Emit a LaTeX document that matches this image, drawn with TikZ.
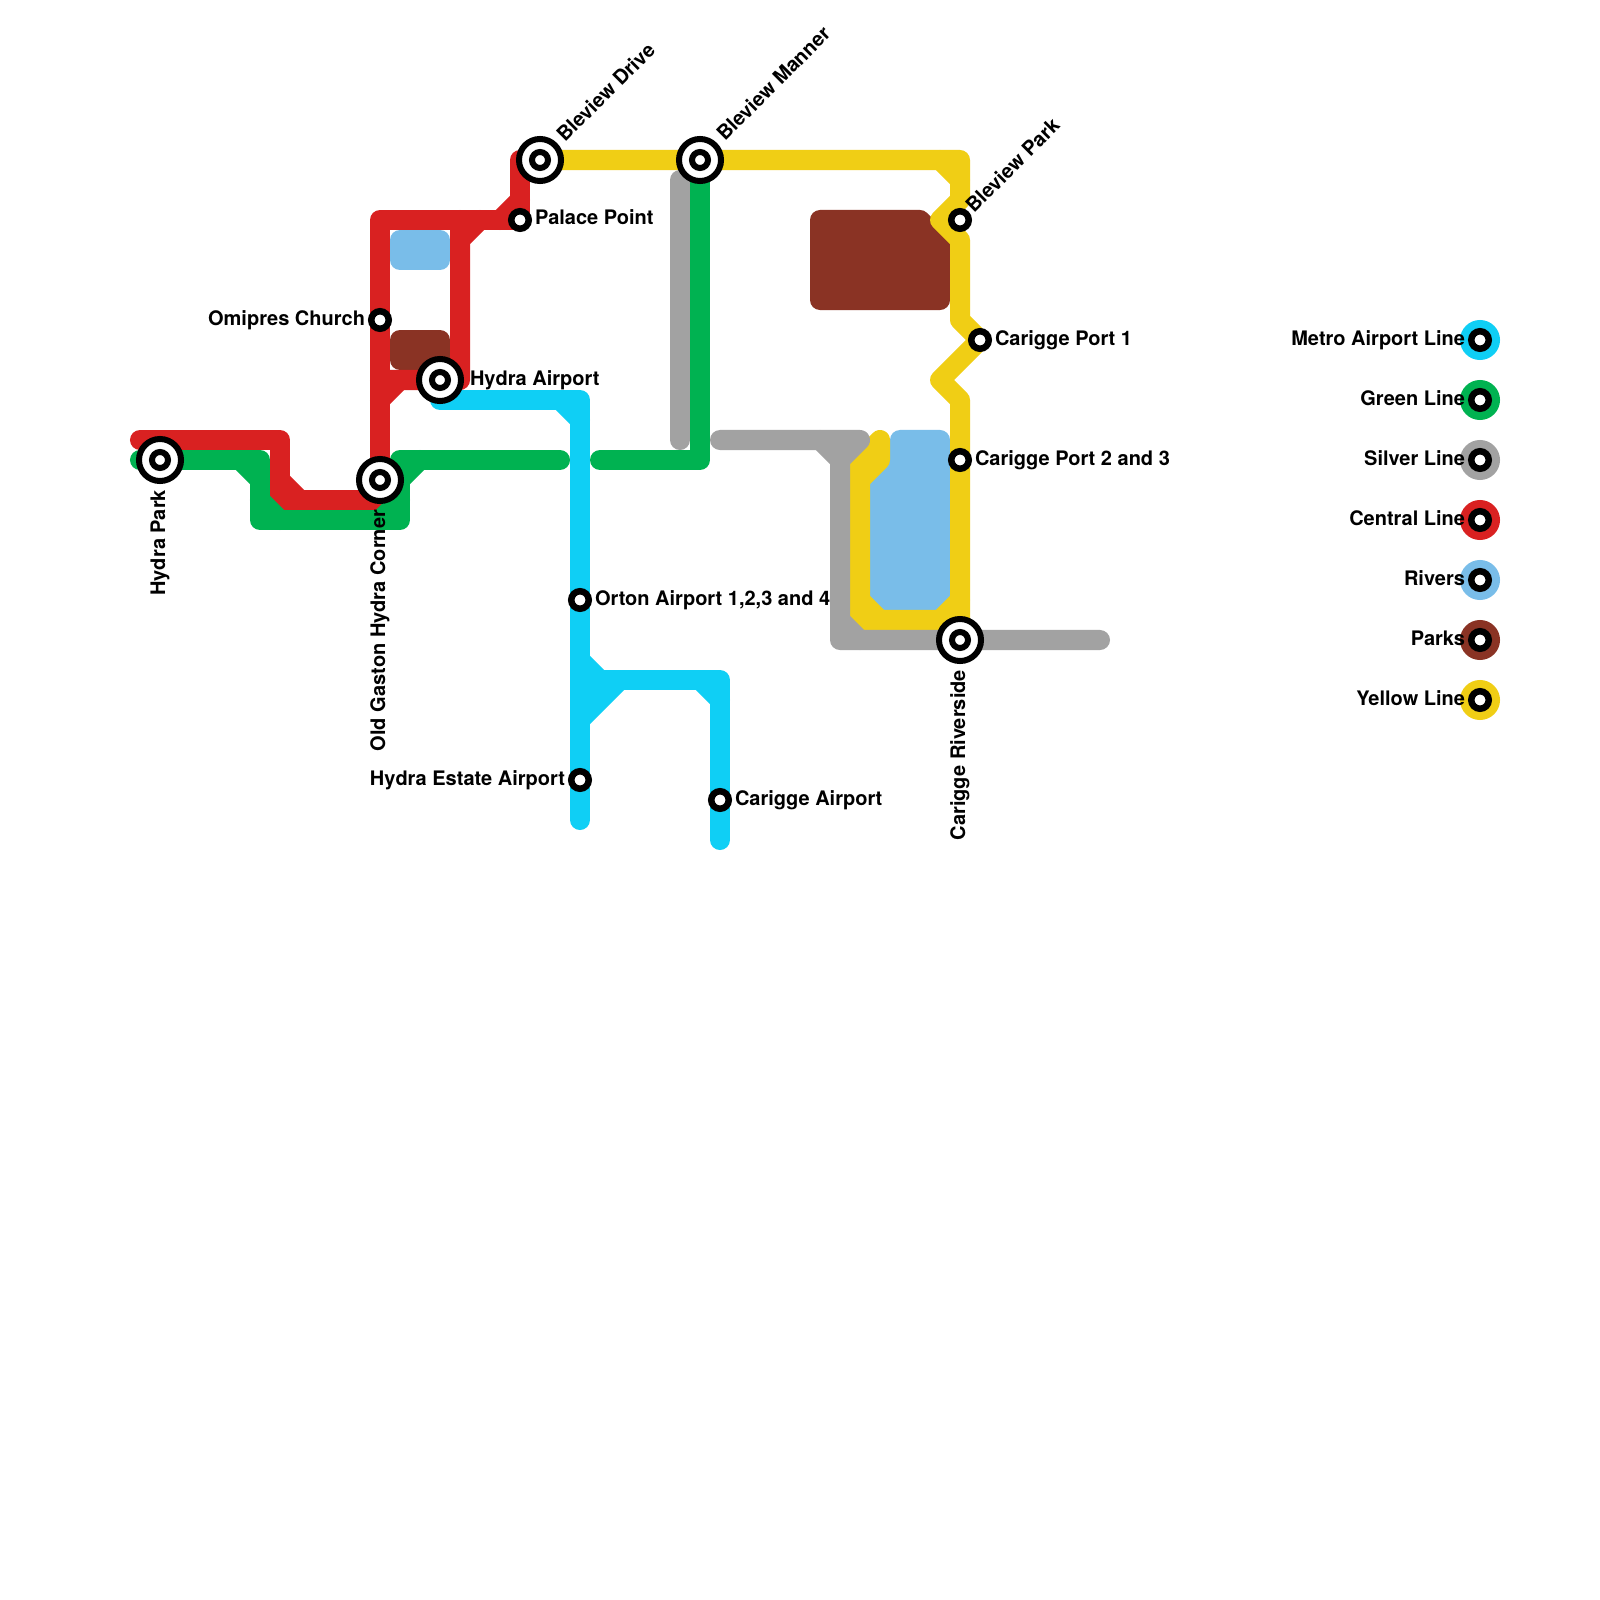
\documentclass[tikz,border=0pt]{standalone}
\usepackage{fontspec}
\setmainfont{TeX Gyre Heros}
\definecolor{cYellow}{HTML}{F0CE15}
\definecolor{cGreen}{HTML}{00B251}
\definecolor{cSilver}{HTML}{A2A2A2}
\definecolor{cRed}{HTML}{D92121}
\definecolor{cCyan}{HTML}{0FCFF5}
\definecolor{cRiver}{HTML}{79BDE9}
\definecolor{cPark}{HTML}{8A3324}
\tikzset{
  route/.style={line width=0.2cm,line cap=round,line join=round},
  area/.style={route,draw=#1,fill=#1},
  stop/.style={circle,draw=black,fill=white,line width=0.065cm,minimum size=0.175cm,inner sep=0pt,outer sep=0pt},
  hubring/.style={circle,draw=black,fill=white,line width=0.06cm,minimum size=0.42cm,inner sep=0pt,outer sep=0pt},
  hubcore/.style={circle,draw=black,fill=white,line width=0.06cm,minimum size=0.16cm,inner sep=0pt,outer sep=0pt},
  key/.style={circle,fill=#1,minimum size=0.4cm,inner sep=0pt,outer sep=0pt},
  lbl/.style={inner sep=0pt,outer sep=0pt,font=\fontsize{5.69}{6.5}\selectfont\bfseries},
  lblr/.style={lbl,anchor=base west},
  lbll/.style={lbl,anchor=base east},
  lblup/.style={lbl,anchor=base east,rotate=90},
  lbldiag/.style={lbl,anchor=base west,rotate=45}
}
\begin{document}
\begin{tikzpicture}[x=0.01cm,y=-0.01cm]
\useasboundingbox (0,0) rectangle (1600,1600);
\fill[white] (0,0) rectangle (1600,1600);
% station positions
\coordinate (hydrapark) at (160,460);
\coordinate (oldgaston) at (380,480);
\coordinate (hydraair) at (440,380);
\coordinate (omipres) at (380,320);
\coordinate (palace) at (520,220);
\coordinate (blevdrive) at (540,160);
\coordinate (blevmanner) at (700,160);
\coordinate (blevpark) at (960,220);
\coordinate (port1) at (980,340);
\coordinate (port23) at (960,460);
\coordinate (riverside) at (960,640);
\coordinate (orton) at (580,600);
\coordinate (estate) at (580,780);
\coordinate (cariggeair) at (720,800);
% rivers and parks
\draw[area=cRiver] (400,240) rectangle (440,260);
\draw[area=cRiver] (900,440) -- (940,440) -- (940,600) -- (880,600) -- (880,480) -- (900,460) -- cycle;
\draw[area=cPark] (400,340) rectangle (440,360);
\draw[area=cPark] (820,220) -- (920,220) -- (940,240) -- (940,300) -- (820,300) -- cycle;
% yellow
\draw[route,cYellow] (blevdrive) -- (blevmanner) -- (960,160) -- (960,200) -- (940,220) -- (960,240) -- (960,320) -- (port1) -- (940,380) -- (960,400) -- (port23) -- (riverside) -- (940,620) -- (860,620) -- (860,460) -- (880,440) -- (880,460) -- (860,480);
\draw[route,cYellow] (940,160) -- (960,180);
\draw[route,cYellow] (960,600) -- (940,620);
\draw[route,cYellow] (860,600) -- (880,620);
% silver
\draw[route,cSilver] (680,440) -- (680,180);
\draw[route,cSilver] (720,440) -- (860,440) -- (840,460) -- (840,640) -- (riverside) -- (1100,640);
\draw[route,cSilver] (820,440) -- (840,460);
\draw[route,cSilver] (840,620) -- (860,640);
% red
\draw[route,cRed] (140,440) -- (280,440) -- (280,500) -- (380,500) -- (oldgaston) -- (omipres) -- (380,220) -- (palace) -- (520,160) -- (blevdrive);
\draw[route,cRed] (280,480) -- (300,500);
\draw[route,cRed] (500,220) -- (520,200);
\draw[route,cRed] (380,380) -- (hydraair) -- (460,380) -- (460,240) -- (480,220);
\draw[route,cRed] (380,400) -- (400,380);
\draw[route,cRed] (460,240) -- (460,220);
% green
\draw[route,cGreen] (140,460) -- (260,460) -- (260,520) -- (400,520) -- (400,460) -- (560,460);
\draw[route,cGreen] (240,460) -- (260,480);
\draw[route,cGreen] (260,500) -- (280,520);
\draw[route,cGreen] (380,520) -- (400,500);
\draw[route,cGreen] (400,480) -- (420,460);
\draw[route,cGreen] (600,460) -- (700,460) -- (blevmanner);
% cyan
\draw[route,cCyan] (hydraair) -- (440,400) -- (580,400) -- (orton) -- (estate) -- (580,820);
\draw[route,cCyan] (560,400) -- (580,420);
\draw[route,cCyan] (580,660) -- (600,680);
\fill[cCyan] (580,660) -- (600,680) -- (620,680) -- (580,720) -- cycle;
\draw[route,cCyan] (580,720) -- (620,680);
\draw[route,cCyan] (580,680) -- (720,680) -- (cariggeair) -- (720,840);
\draw[route,cCyan] (700,680) -- (720,700);
% stations
\foreach \s in {hydrapark,oldgaston,hydraair,blevdrive,blevmanner,riverside}{
  \node[hubring] at (\s) {};
  \node[hubcore] at (\s) {};
}
\foreach \s in {omipres,palace,blevpark,port1,port23,orton,estate,cariggeair}{
  \node[stop] at (\s) {};
}
% labels
\node[lblup] at (165,490) {Hydra Park};
\node[lblup] at (385,510) {Old Gaston Hydra Corner};
\node[lblup] at (965,670) {Carigge Riverside};
\node[lbldiag] at (565,143) {Bleview Drive};
\node[lbldiag] at (725,142) {Bleview Manner};
\node[lbldiag] at (974,214) {Bleview Park};
\node[lblr] at (535,224.5) {Palace Point};
\node[lbll] at (365,325) {Omipres Church};
\node[lblr] at (470,385) {Hydra Airport};
\node[lblr] at (995,345) {Carigge Port 1};
\node[lblr] at (975,465) {Carigge Port 2 and 3};
\node[lblr] at (595,605) {Orton Airport 1,2,3 and 4};
\node[lbll] at (565,785) {Hydra Estate Airport};
\node[lblr] at (735,805) {Carigge Airport};
% legend
\foreach \y/\c/\t in {340/cCyan/Metro Airport Line,400/cGreen/Green Line,460/cSilver/Silver Line,520/cRed/Central Line,580/cRiver/Rivers,640/cPark/Parks,700/cYellow/Yellow Line}{
  \node[key=\c] at (1480,\y) {};
  \node[stop] at (1480,\y) {};
  \node[lbll] at (1465,\y+5) {\t};
}
\end{tikzpicture}
\end{document}
